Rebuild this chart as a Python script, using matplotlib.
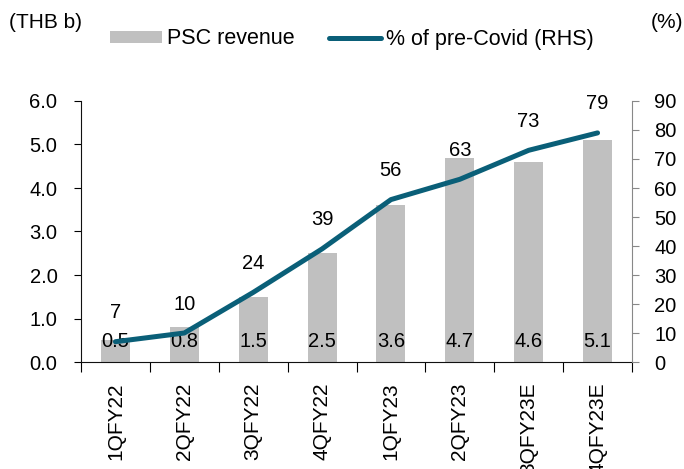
import matplotlib
matplotlib.use("Agg")
import matplotlib.pyplot as plt
import numpy as np

plt.rcParams['font.family'] = ['Liberation Sans', 'DejaVu Sans']

categories = ["1QFY22", "2QFY22", "3QFY22", "4QFY22", "1QFY23", "2QFY23", "3QFY23E", "4QFY23E"]
revenue = [0.5, 0.8, 1.5, 2.5, 3.6, 4.7, 4.6, 5.1]
pct_precovid = [7, 10, 24, 39, 56, 63, 73, 79]

bar_color = "#C0C0C0"
line_color = "#0A5F78"
fs = 14.5
fs_x = 15
fs_leg = 15.5

fig = plt.figure(figsize=(6.84, 4.69), dpi=100)
ax = fig.add_axes([81/684, 1 - 362/469, 551/684, 261/469])
ax2 = ax.twinx()

x = np.arange(len(categories))
ax.bar(x, revenue, width=0.42, color=bar_color, zorder=1, label="PSC revenue")
ax.set_ylim(0, 6)
ax.set_yticks(np.arange(0, 6.01, 1.0))
ax.set_yticklabels([f"{v:.1f}" for v in np.arange(0, 6.01, 1.0)], fontsize=fs)
ax.set_xlim(-0.5, len(categories) - 0.5)
ax.set_xticks(np.arange(-0.5, len(categories) - 0.4, 1.0))
ax.set_xticklabels([])
ax.set_xticks(x, minor=True)
ax.set_xticklabels(categories, minor=True, rotation=90, fontsize=fs_x, va='top')
ax.tick_params(axis='x', which='minor', length=0, pad=15)
ax.tick_params(axis='x', which='major', length=7, direction='out')
ax.tick_params(axis='y', length=5, direction='out', pad=12)

for xi, v in zip(x, revenue):
    ax.text(xi, 0.47, f"{v:.1f}", ha='center', va='center', fontsize=fs, zorder=5)

ax2.plot(x, pct_precovid, color=line_color, lw=3.6, solid_capstyle='round', zorder=3,
         label="% of pre-Covid (RHS)")
ax2.set_ylim(0, 90)
ax2.set_yticks(np.arange(0, 91, 10))
ax2.set_yticklabels([str(v) for v in range(0, 91, 10)], fontsize=fs)
ax2.tick_params(axis='y', length=5, direction='out', color='#888888', pad=11)
for xi, v in zip(x, pct_precovid):
    ax2.annotate(str(v), (xi, v), xytext=(0, 14), textcoords='offset points',
                 ha='center', va='bottom', fontsize=fs)

for a in (ax, ax2):
    a.spines['top'].set_visible(False)
ax.spines['right'].set_visible(False)
ax2.spines['left'].set_visible(False)
ax2.spines['bottom'].set_visible(False)
ax2.spines['right'].set_color('#888888')
ax.spines['bottom'].set_color('#111111')
ax.spines['left'].set_color('#111111')

fig.text(9/684, 1 - 22/469, "(THB b)", fontsize=15, ha='left', va='center')
fig.text(683/684, 1 - 22/469, "(%)", fontsize=15, ha='right', va='center')

h1, l1 = ax.get_legend_handles_labels()
h2, l2 = ax2.get_legend_handles_labels()
fig.legend(h1 + h2, l1 + l2, loc='center left', bbox_to_anchor=(110/684, 1 - 39/469), ncol=2,
           frameon=False, fontsize=fs_leg, handlelength=2.4, handleheight=0.5,
           columnspacing=1.6, handletextpad=0.25, borderpad=0, borderaxespad=0)

fig.savefig("out.png", dpi=100)
